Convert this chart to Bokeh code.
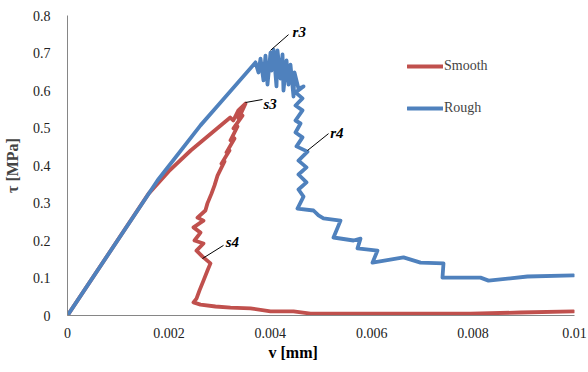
from bokeh.plotting import figure
from bokeh.models import FixedTicker, Legend, LegendItem, Range1d, Title
from bokeh.core.properties import value
from bokeh.embed import file_html
from bokeh.resources import INLINE

# ---- data ----
smooth_v = [0, 0.00160, 0.00200, 0.00243, 0.00321, 0.00327, 0.00337, 0.00351,
            0.003373, 0.003452, 0.003274, 0.003353, 0.003215, 0.003294, 0.003136,
            0.003195, 0.003037, 0.003097, 0.002959, 0.0029, 0.00284, 0.00276,
            0.00272, 0.002564, 0.002682, 0.002485, 0.002623, 0.002505, 0.002682,
            0.002544, 0.002663, 0.00282, 0.002761, 0.002682, 0.002604, 0.002544,
            0.002485, 0.002623, 0.002919, 0.003215, 0.003609, 0.004004, 0.004458,
            0.004793, 0.006174, 0.007949, 0.008935, 0.00998]
smooth_tau = [0, 0.325, 0.385, 0.44, 0.528, 0.52, 0.547, 0.565,
              0.525, 0.533, 0.499, 0.504, 0.467, 0.472, 0.435,
              0.44, 0.405, 0.411, 0.373, 0.347, 0.325, 0.299,
              0.28, 0.261, 0.253, 0.235, 0.221, 0.2, 0.192,
              0.173, 0.157, 0.139, 0.12, 0.093, 0.067, 0.045,
              0.035, 0.029, 0.024, 0.021, 0.019, 0.011, 0.011,
              0.005, 0.005, 0.005, 0.008, 0.011]

rough_v = [0, 0.001775, 0.002623, 0.003018, 0.003708, 0.003767, 0.003807, 0.003866,
           0.003905, 0.003945, 0.004004, 0.004024, 0.004063, 0.004122, 0.004142,
           0.004201, 0.004241, 0.00426, 0.00432, 0.004359, 0.004398, 0.004458,
           0.004477, 0.004556, 0.004655, 0.004497,
           0.004635, 0.004497, 0.004635, 0.004497, 0.004596, 0.004497, 0.004635,
           0.004517, 0.004734, 0.004556, 0.004714, 0.004556, 0.004714, 0.004556,
           0.004655, 0.004536, 0.004852, 0.004951, 0.005049, 0.005385, 0.005247,
           0.005641, 0.005779, 0.00572, 0.006114, 0.006016, 0.006627, 0.006963,
           0.007416, 0.007396, 0.008146, 0.008304, 0.009073, 0.00998]
rough_tau = [0, 0.360, 0.507, 0.568, 0.675, 0.648, 0.685, 0.627,
             0.693, 0.616, 0.701, 0.653, 0.709, 0.611, 0.707,
             0.632, 0.696, 0.600, 0.680, 0.616, 0.669, 0.584,
             0.648, 0.605, 0.611, 0.595,
             0.579, 0.56, 0.547, 0.52, 0.512, 0.488, 0.475,
             0.451, 0.437, 0.413, 0.395, 0.376, 0.355, 0.336,
             0.317, 0.285, 0.28, 0.267, 0.259, 0.253, 0.208,
             0.2, 0.205, 0.179, 0.173, 0.141, 0.155, 0.141,
             0.139, 0.101, 0.101, 0.093, 0.104, 0.107]

x_ticks = [0, 0.002, 0.004, 0.006, 0.008, 0.01]
x_tick_labels = ["0", "0.002", "0.004", "0.006", "0.008", "0.01"]
y_ticks = [0, 0.1, 0.2, 0.3, 0.4, 0.5, 0.6, 0.7, 0.8]
y_tick_labels = ["0", "0.1", "0.2", "0.3", "0.4", "0.5", "0.6", "0.7", "0.8"]

# point annotations: name, point on curve, leader end, text anchor
ann_names = ["r3", "s3", "r4", "s4"]
ann_pt_v = [0.004004, 0.003511, 0.004734, 0.002663]
ann_pt_tau = [0.707, 0.568, 0.440, 0.152]
ann_end_v = [0.004359, 0.003846, 0.005148, 0.003077]
ann_end_tau = [0.749, 0.576, 0.485, 0.187]
ann_txt_v = [0.004440, 0.003866, 0.005180, 0.003120]
ann_txt_tau = [0.757, 0.565, 0.488, 0.195]

RED = "#C0504D"
BLUE = "#4F81BD"
SERIF = "Liberation Serif"

p = figure(width=588, height=372,
           x_range=Range1d(0, 0.01), y_range=Range1d(0, 0.8),
           output_backend="svg", toolbar_location=None,
           min_border_left=67, min_border_right=14,
           min_border_top=15, min_border_bottom=57)
p.outline_line_color = None
p.grid.visible = False
p.background_fill_color = "white"
p.border_fill_color = "white"

r_s = p.line(smooth_v, smooth_tau, line_color=RED, line_width=3.8,
             line_join="round", line_cap="round")
r_r = p.line(rough_v, rough_tau, line_color=BLUE, line_width=3.8,
             line_join="round", line_cap="round")

# leaders and labels
p.segment(ann_pt_v, ann_pt_tau, ann_end_v, ann_end_tau, line_color="black", line_width=1)
p.text(ann_txt_v, ann_txt_tau, text=ann_names, text_font=value(SERIF),
       text_font_style="bold italic", text_font_size="15px",
       text_baseline="middle", text_align="left", text_color="black")

# axes
for ax in (p.xaxis[0], p.yaxis[0]):
    ax.major_tick_out = 0
    ax.major_tick_in = 0
    ax.minor_tick_out = 0
    ax.minor_tick_in = 0
    ax.axis_line_color = "#868686"
    ax.axis_line_width = 1
    ax.major_label_text_font = SERIF
    ax.major_label_text_font_size = "14px"
    ax.major_label_text_color = "#222222"

p.xaxis[0].ticker = FixedTicker(ticks=x_ticks)
p.xaxis[0].major_label_overrides = dict(zip(x_ticks, x_tick_labels))
p.xaxis[0].major_label_standoff = 12

p.yaxis[0].ticker = FixedTicker(ticks=y_ticks)
p.yaxis[0].major_label_overrides = dict(zip(y_ticks, y_tick_labels))
p.yaxis[0].major_label_standoff = 17
p.yaxis[0].axis_label = "τ [MPa]"
p.yaxis[0].axis_label_text_font = SERIF
p.yaxis[0].axis_label_text_font_style = "bold"
p.yaxis[0].axis_label_text_font_size = "16px"
p.yaxis[0].axis_label_standoff = 9

# x-axis title placed below the axis, offset like the reference
xtitle = Title(text="v [mm]", align="left", offset=201, standoff=3,
               text_font=SERIF, text_font_style="bold", text_font_size="16px",
               text_color="black")
p.add_layout(xtitle, "below")

legend = Legend(items=[LegendItem(label="Smooth", renderers=[r_s]),
                       LegendItem(label="Rough", renderers=[r_r])],
                location=(340, 197), orientation="vertical",
                glyph_width=36, glyph_height=20, spacing=22, padding=0, margin=0,
                label_standoff=1, border_line_color=None, background_fill_alpha=0,
                label_text_font=SERIF, label_text_font_size="14px")
p.add_layout(legend)

open("out.html", "w").write(file_html(p, INLINE))
